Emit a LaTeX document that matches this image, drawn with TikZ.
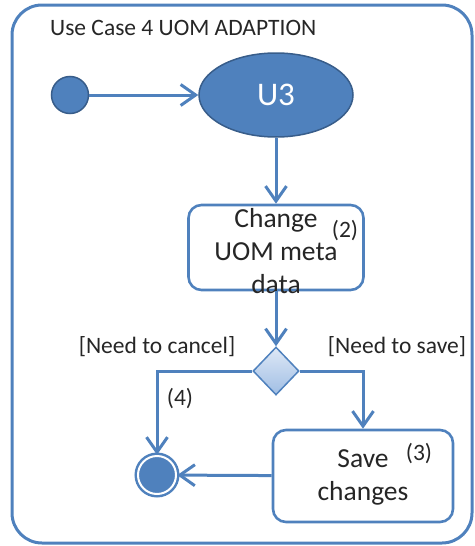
\documentclass[tikz,border=0pt]{standalone}
\usepackage{fontspec}
\setmainfont{Carlito}
\usepackage{tikz}
\usetikzlibrary{arrows.meta,positioning,shapes.geometric}
\definecolor{lineB}{RGB}{79,129,189}
\definecolor{darkB}{RGB}{56,93,138}
\definecolor{diaTop}{RGB}{222,232,246}
\definecolor{diaBot}{RGB}{160,190,228}
\definecolor{txtG}{RGB}{38,38,38}

\begin{document}
\begin{tikzpicture}[x=1pt,y=-1pt,
    flow/.style={draw=lineB,line width=3pt,-{Straight Barb[length=15pt,width=21pt]}},
    actbox/.style={draw=lineB,line width=2.6pt,rounded corners=13pt,fill=white},
    acttxt/.style={align=center,font=\fontsize{27.5}{33}\selectfont,text=txtG,inner sep=0pt},
    lbl/.style={font=\fontsize{23.5}{28}\selectfont,text=txtG,inner sep=0pt}]
  \useasboundingbox (0,0) rectangle (474,546);
  % frame and title
  \draw[lineB,line width=3pt,rounded corners=30pt] (12,5) rectangle (472,543);
  \node[lbl,anchor=base west] (title) at (50,35) {Use Case 4 UOM ADAPTION};
  % states
  \node[circle,draw=darkB,line width=1.5pt,fill=lineB,minimum size=37pt,inner sep=0pt]
    (init) at (70,95) {};
  \node[ellipse,draw=darkB,line width=1.5pt,fill=lineB,minimum width=154pt,minimum height=84pt,
    text=white,font=\fontsize{33}{40}\selectfont] (u3) at (276,95) {U3};
  \node[actbox,minimum width=175pt,minimum height=85pt] (chg) at (276,247.5) {};
  \node[acttxt] (chgtxt) at ([yshift=-4pt]chg.center) {Change\\UOM meta\\data};
  \node[diamond,draw=lineB,line width=1.5pt,top color=diaTop,bottom color=diaBot,
    minimum width=46pt,minimum height=48pt,inner sep=0pt] (dec) at (276,371) {};
  \node[actbox,minimum width=180pt,minimum height=92pt] (save) at (363,476) {};
  \node[acttxt] (savetxt) at ([yshift=-1pt]save.center) {Save\\changes};
  \node[circle,draw=lineB,line width=2.5pt,double=white,double distance=2pt,
    fill=lineB,minimum size=38pt,inner sep=0pt] (fin) at (157,475) {};
  % numbers and guards
  \node[lbl,anchor=base] (n2) at (345,237) {(2)};
  \node[lbl,anchor=base] (n3) at (419,460) {(3)};
  \node[lbl,anchor=base] (n4) at (180,405) {(4)};
  \node[lbl,anchor=base] (cancel) at (157,353) {[Need to cancel]};
  \node[lbl,anchor=base] (savelbl) at (397,353) {[Need to save]};
  % transitions
  \draw[flow] (init) -- (u3);
  \draw[flow] (u3) -- (chg);
  \draw[flow] (chg) -- (dec);
  \draw[flow] (dec.west) -| (fin);
  \draw[flow] (dec.east) -| (save);
  \draw[flow] (save) -- (fin);
\end{tikzpicture}
\end{document}
